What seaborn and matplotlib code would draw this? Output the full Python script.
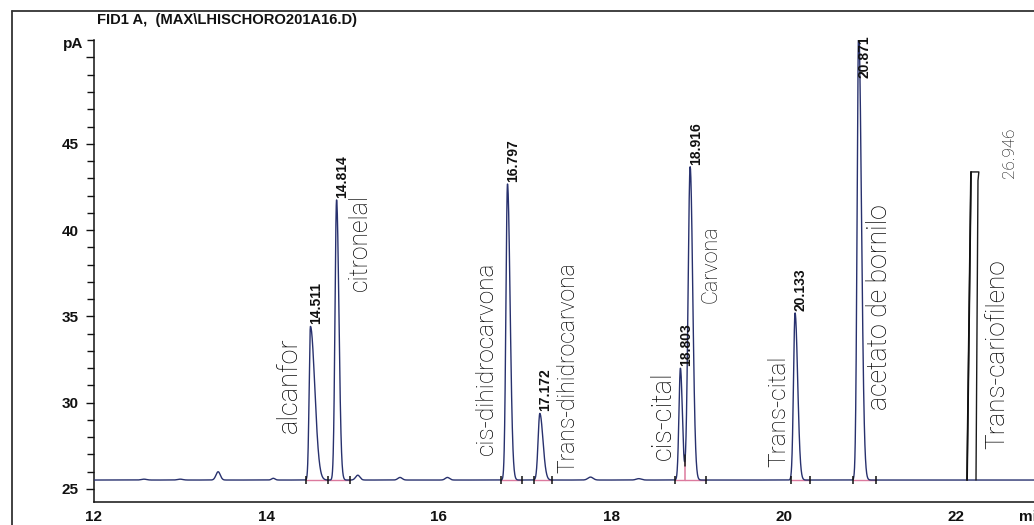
import numpy as np
import pandas as pd
import matplotlib
matplotlib.use("Agg")
import matplotlib.pyplot as plt
from matplotlib.lines import Line2D
import seaborn as sns

# ---- chromatogram data (FID1 A) ----
baseline_pA = 25.52

# integrated peaks: retention time (min), apex signal (pA), front / tail widths (min)
peak_times = [14.511, 14.814, 16.797, 17.172, 18.803, 18.916, 20.133, 20.871]
peak_apex = [34.42, 41.75, 42.67, 29.38, 32.00, 43.67, 35.20, 51.60]
peak_front = [0.015, 0.018, 0.018, 0.020, 0.017, 0.024, 0.018, 0.018]
peak_tail = [0.050, 0.027, 0.030, 0.036, 0.022, 0.030, 0.030, 0.032]
peak_labels = ["14.511", "14.814", "16.797", "17.172", "18.803", "18.916", "20.133", "20.871"]
label_floor = [None, None, None, None, None, None, None, 48.70]

# small unlabelled bumps on the baseline
minor_times = [12.58, 13.00, 13.44, 14.08, 15.06, 15.55, 16.10, 17.76, 18.32]
minor_heights = [0.05, 0.05, 0.48, 0.10, 0.28, 0.15, 0.15, 0.17, 0.08]
minor_width = [0.03, 0.03, 0.025, 0.02, 0.025, 0.025, 0.025, 0.03, 0.03]

# integration baselines (start, end) and events
segment_start = [14.46, 14.71, 16.72, 17.10, 18.74, 18.86, 20.09, 20.80]
segment_end = [14.71, 14.97, 16.96, 17.31, 18.86, 19.10, 20.31, 21.07]
drop_line_time = 18.86

# hand-drawn peak for trans-cariofileno
cario_left_bottom, cario_left_top = 22.128, 22.174
cario_right_bottom, cario_right_top = 22.232, 22.255
cario_top = 43.37

# handwritten compound names: text, centre time, lower end (pA), size
hand_names = ["alcanfor", "citronelal", "cis-dihidrocarvona", "Trans-dihidrocarvona",
              "cis-cital", "Carvona", "Trans-cital", "acetato de bornilo",
              "Trans-cariofileno", "26.946"]
hand_x = [14.27, 15.09, 16.55, 17.50, 18.60, 19.16, 19.95, 21.11, 22.48, 22.62]
hand_y = [28.25, 36.50, 26.97, 25.95, 26.70, 35.80, 26.30, 29.60, 27.30, 43.00]
hand_size = [19.5, 17.8, 17.6, 16.5, 19.5, 15.5, 17.6, 19.2, 18.8, 12.3]

x_ticks = [12, 14, 16, 18, 20, 22]
y_ticks = [25, 30, 35, 40, 45, 50]
y_tick_text = ["25", "30", "35", "40", "45", ""]

# ---- build the detector trace ----
t = np.linspace(12.0, 22.95, 8000)
signal = np.full_like(t, baseline_pA)
for tr, apex, sf, st in zip(peak_times, peak_apex, peak_front, peak_tail):
    s = np.where(t < tr, sf, st)
    signal += (apex - baseline_pA) * np.exp(-0.5 * ((t - tr) / s) ** 2)
for tr, h, w in zip(minor_times, minor_heights, minor_width):
    signal += h * np.exp(-0.5 * ((t - tr) / w) ** 2)
trace = pd.DataFrame({"time": t, "signal": signal})

sns.set_theme(style="white")
plt.rcParams["font.family"] = ["Liberation Sans", "DejaVu Sans"]

W, H = 1034, 525
fig = plt.figure(figsize=(W / 100, H / 100), dpi=100)
ax = fig.add_axes([94 / W, 23 / H, (W - 94) / W, (502 - 40) / H])

trace_color = "#28316e"
pink = "#dc7a9e"
pen = "#000000"

# integration baselines
for a, b in zip(segment_start, segment_end):
    ax.plot([a, b], [baseline_pA, baseline_pA], color=pink, lw=1.0, zorder=2)

sns.lineplot(data=trace, x="time", y="signal", ax=ax, color=trace_color,
             lw=1.0, zorder=3, estimator=None, sort=False)

# drop line between the overlapping citral / carvona peaks
valley = np.interp(drop_line_time, t, signal)
ax.plot([drop_line_time, drop_line_time], [baseline_pA, valley - 0.15],
        color=pink, lw=1.1, zorder=2)
ax.plot([drop_line_time, drop_line_time], [valley - 0.6, valley],
        color="#222222", lw=1.1, zorder=4)

# integration event ticks
events = sorted(set(segment_start + segment_end) - {drop_line_time})
ax.vlines(events, baseline_pA - 0.22, baseline_pA + 0.25, color="#111111", lw=1.1, zorder=4)

# retention time labels
for tr, apex, lab, fl in zip(peak_times, peak_apex, peak_labels, label_floor):
    ypos = apex if fl is None else fl
    ax.annotate(lab, xy=(tr, ypos), xytext=(-1.5, 2), textcoords="offset pixels",
                rotation=90, ha="left", va="bottom", fontsize=10, fontweight="bold",
                color="#111111", annotation_clip=False, zorder=5)

# hand-drawn trans-cariofileno peak
ax.plot([cario_left_bottom, cario_left_top, cario_right_top + 0.01, cario_right_top,
         cario_right_bottom],
        [baseline_pA, cario_top, cario_top, cario_top - 0.5, baseline_pA],
        color="#1a1a1a", lw=1.0, zorder=4)
ax.plot([cario_left_bottom, cario_left_top], [baseline_pA, cario_top],
        color="#111111", lw=1.3, zorder=4)

# handwritten names
for name, hx, hy, hs in zip(hand_names, hand_x, hand_y, hand_size):
    ax.text(hx, hy, name, rotation=90, ha="center", va="bottom", fontsize=hs,
            family=["Roboto", "DejaVu Sans"], fontweight="light", color=pen, zorder=5)

# axes styling
ax.set_xlim(12, 12 + (W - 94) / 86.2)
ax.set_ylim(25 - 13 / 17.26, 25 + 449 / 17.26)
ax.set_xlabel("")
ax.set_ylabel("")
for side in ["top", "right"]:
    ax.spines[side].set_visible(False)
for side in ["left", "bottom"]:
    ax.spines[side].set_color("#111111")
    ax.spines[side].set_linewidth(1.1)

ax.set_xticks(x_ticks)
ax.set_xticklabels([str(v) for v in x_ticks])
ax.set_xticks(np.arange(12, 23, 0.5), minor=True)
ax.set_yticks(y_ticks)
ax.set_yticklabels(y_tick_text)
ax.set_yticks(np.arange(25, 52, 1), minor=True)
ax.tick_params(axis="x", which="major", direction="in", length=5, width=1.0,
               pad=6, labelsize=11, color="#111111")
ax.tick_params(axis="x", which="minor", direction="in", length=4, width=1.0,
               color="#111111")
ax.tick_params(axis="y", which="major", direction="out", length=6, width=1.0,
               pad=5, labelsize=11, color="#111111", left=True)
ax.tick_params(axis="y", which="minor", direction="out", length=5, width=1.0,
               color="#111111", left=True)
for lbl in ax.get_xticklabels() + ax.get_yticklabels():
    lbl.set_fontweight("bold")
    lbl.set_color("#111111")

# time unit at the right end of the axis
fig.text(1019 / W, 1 - 517 / H, "min", ha="left", va="center",
         fontsize=11, fontweight="bold", color="#111111")

# report header and frame
fig.text(73 / W, 1 - 44 / H, "pA", ha="center", va="center", fontsize=11,
         fontweight="bold", color="#111111")
fig.text(97 / W, 1 - 20 / H, "FID1 A,  (MAX\\LHISCHORO201A16.D)", ha="left",
         va="center", fontsize=10.6, fontweight="bold", color="#111111")
fig.add_artist(Line2D([12 / W, 12 / W], [0, 1 - 11 / H], color="#333333", lw=1.3))
fig.add_artist(Line2D([12 / W, 1], [1 - 11 / H, 1 - 11 / H], color="#333333", lw=1.3))

fig.savefig("out.png", dpi=100)
